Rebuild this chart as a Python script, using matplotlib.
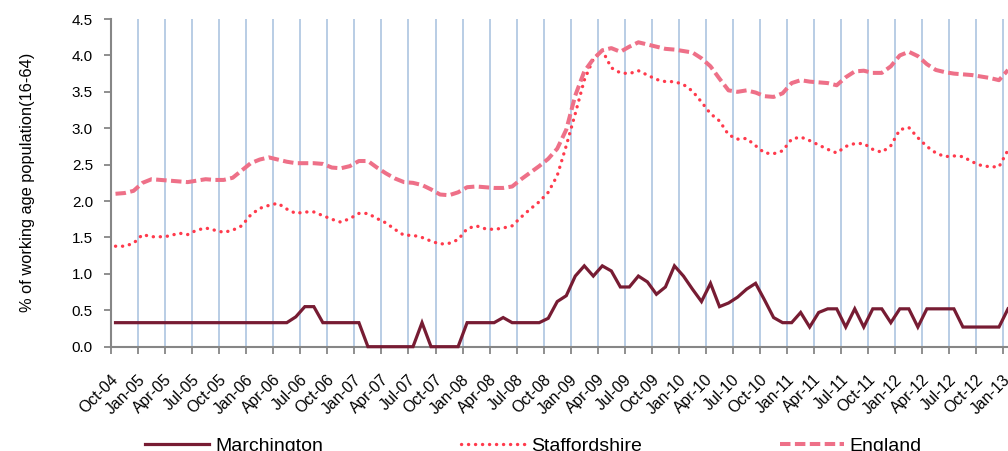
import numpy as np
import matplotlib
matplotlib.use("Agg")
import matplotlib.pyplot as plt

plt.rcParams['font.family'] = ['Liberation Sans', 'DejaVu Sans']

# monthly values, Oct-04 .. Jan-13
marchington = [0.33, 0.33, 0.33, 0.33, 0.33, 0.33, 0.33, 0.33, 0.33, 0.33,
               0.33, 0.33, 0.33, 0.33, 0.33, 0.33, 0.33, 0.33, 0.33, 0.33,
               0.41, 0.55, 0.55, 0.33, 0.33, 0.33, 0.33, 0.33, 0.0, 0.0,
               0.0, 0.0, 0.0, 0.0, 0.33, 0.0, 0.0, 0.0, 0.0, 0.33,
               0.33, 0.33, 0.33, 0.40, 0.33, 0.33, 0.33, 0.33, 0.39, 0.62,
               0.70, 0.97, 1.11, 0.97, 1.11, 1.04, 0.82, 0.82, 0.97, 0.89,
               0.72, 0.82, 1.11, 0.97, 0.79, 0.62, 0.87, 0.55, 0.60, 0.68,
               0.79, 0.87, 0.64, 0.40, 0.33, 0.33, 0.47, 0.27, 0.47, 0.52,
               0.52, 0.27, 0.52, 0.27, 0.52, 0.52, 0.33, 0.52, 0.52, 0.27,
               0.52, 0.52, 0.52, 0.52, 0.27, 0.27, 0.27, 0.27, 0.27, 0.52]

staffordshire = [1.38, 1.38, 1.42, 1.54, 1.51, 1.51, 1.52, 1.56, 1.54, 1.60,
                 1.63, 1.60, 1.57, 1.60, 1.66, 1.81, 1.90, 1.94, 1.97, 1.89,
                 1.83, 1.85, 1.85, 1.80, 1.75, 1.71, 1.76, 1.83, 1.83, 1.76,
                 1.70, 1.61, 1.53, 1.53, 1.50, 1.45, 1.41, 1.42, 1.47, 1.62,
                 1.66, 1.62, 1.61, 1.63, 1.66, 1.78, 1.89, 1.99, 2.12, 2.35,
                 2.76, 3.20, 3.66, 3.95, 4.07, 3.83, 3.76, 3.75, 3.79, 3.73,
                 3.67, 3.64, 3.64, 3.60, 3.51, 3.36, 3.20, 3.10, 2.91, 2.85,
                 2.86, 2.76, 2.66, 2.65, 2.69, 2.85, 2.88, 2.83, 2.77, 2.71,
                 2.66, 2.75, 2.79, 2.79, 2.71, 2.67, 2.76, 2.98, 3.01, 2.87,
                 2.75, 2.66, 2.61, 2.62, 2.61, 2.54, 2.49, 2.47, 2.47, 2.70]

england = [2.10, 2.11, 2.14, 2.25, 2.30, 2.29, 2.28, 2.27, 2.26, 2.28,
           2.30, 2.29, 2.29, 2.32, 2.42, 2.52, 2.57, 2.60, 2.57, 2.54,
           2.52, 2.52, 2.52, 2.51, 2.46, 2.45, 2.48, 2.55, 2.55, 2.46,
           2.38, 2.31, 2.26, 2.25, 2.22, 2.16, 2.09, 2.08, 2.12, 2.19,
           2.20, 2.19, 2.18, 2.18, 2.20, 2.30, 2.39, 2.48, 2.58, 2.72,
           2.98, 3.45, 3.78, 3.95, 4.07, 4.10, 4.05, 4.12, 4.18, 4.15,
           4.12, 4.09, 4.08, 4.06, 4.04, 3.96, 3.85, 3.68, 3.52, 3.50,
           3.52, 3.49, 3.44, 3.43, 3.48, 3.62, 3.66, 3.64, 3.63, 3.62,
           3.59, 3.70, 3.78, 3.79, 3.76, 3.76, 3.85, 4.00, 4.05, 3.99,
           3.88, 3.80, 3.77, 3.75, 3.74, 3.73, 3.71, 3.69, 3.66, 3.80]

tick_labels = ['Oct-04', 'Jan-05', 'Apr-05', 'Jul-05', 'Oct-05', 'Jan-06', 'Apr-06',
               'Jul-06', 'Oct-06', 'Jan-07', 'Apr-07', 'Jul-07', 'Oct-07', 'Jan-08',
               'Apr-08', 'Jul-08', 'Oct-08', 'Jan-09', 'Apr-09', 'Jul-09', 'Oct-09',
               'Jan-10', 'Apr-10', 'Jul-10', 'Oct-10', 'Jan-11', 'Apr-11', 'Jul-11',
               'Oct-11', 'Jan-12', 'Apr-12', 'Jul-12', 'Oct-12', 'Jan-13']

x = np.arange(len(marchington))

fig = plt.figure(figsize=(10.08, 4.51), dpi=100)
ax = fig.add_axes([111/1008, 104.3/451, 897/1008, 327.7/451])

l1, = ax.plot(x, marchington, color='#771c33', lw=2.3, zorder=4, clip_on=False,
              solid_joinstyle='miter')
l2, = ax.plot(x, staffordshire, color='#ff3a4c', lw=2.4, zorder=3,
              linestyle=(0, (0.05, 2.05)), dash_capstyle='round')
l3, = ax.plot(x, england, color='#ee7088', lw=2.9, zorder=3,
              linestyle=(0, (2.6, 1.1)))

ax.set_xlim(-0.5, -0.5 + 897/9.03)
ax.set_ylim(0, 4.5)

# boundaries between quarters: tick marks + grid; labels sit at months
ax.set_xticks(np.arange(len(tick_labels)) * 3 - 0.5)
ax.set_xticklabels([])
ax.set_xticks(np.arange(len(tick_labels)) * 3, minor=True)
ax.set_xticklabels(tick_labels, minor=True, rotation=45, ha='right',
                   va='center', rotation_mode='anchor', fontsize=11.3)
ax.tick_params(axis='x', which='major', direction='out', length=5, width=1.3,
               color='#868686')
ax.tick_params(axis='x', which='minor', length=0, pad=22)
ax.grid(axis='x', which='major', color='#b9cde5', lw=1.4, zorder=0)

ax.set_yticks(np.arange(0, 4.51, 0.5))
ax.set_yticklabels(['%.1f' % v for v in np.arange(0, 4.51, 0.5)], fontsize=11)
ax.tick_params(axis='y', direction='out', length=5, width=1.3, color='#868686', pad=8)

for s in ['top', 'right']:
    ax.spines[s].set_visible(False)
for s in ['left', 'bottom']:
    ax.spines[s].set_color('#868686')
    ax.spines[s].set_linewidth(1.5)

ax.set_ylabel('% of working age population(16-64)', fontsize=11.8)
ax.yaxis.set_label_coords(-(111 - 35) / 897, 0.5)

fig.legend([l1, l2, l3], ['Marchington', 'Staffordshire', 'England'],
           loc='center left', bbox_to_anchor=(145/1008, 1 - 446/451), ncol=3,
           frameon=False, fontsize=14, handlelength=3.3, handletextpad=0.3,
           columnspacing=7.1, borderaxespad=0, borderpad=0)

fig.savefig('out.png', dpi=100)
